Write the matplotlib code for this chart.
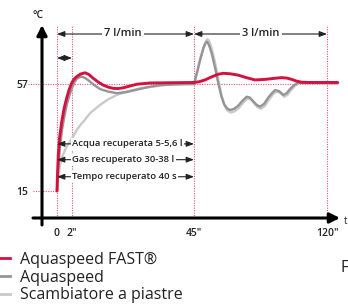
import numpy as np
import matplotlib
matplotlib.use("Agg")
import matplotlib.pyplot as plt
from matplotlib.lines import Line2D

plt.rcParams['font.family'] = ['Open Sans', 'DejaVu Sans']

# ---------------- data (time in seconds, temperature in °C) ----------------
fast_t = [0, 0.05, 0.17, 0.35, 0.63, 0.95, 1.29, 1.62, 1.96, 2.8, 3.66, 5.0, 6.58, 8.0,
          9.51, 11.2, 12.9, 14.7, 16.45, 18.2, 20.0, 22.4, 24.8, 29.5, 37.0, 45.0,
          48.0, 51.2, 55.0, 58.5, 61.5, 65.5, 69.8, 74.5, 79.4, 85.0, 90.0, 94.5,
          97.5, 100.1, 103.0, 105.7, 110.0, 126.0]
fast_v = [15.0, 20.0, 29.1, 36.0, 42.2, 47.5, 51.5, 54.8, 57.4, 59.0, 59.9, 60.9, 61.4, 60.7,
          59.2, 57.8, 56.6, 55.8, 55.3, 55.2, 55.5, 56.2, 56.9, 57.4, 57.5, 57.6,
          57.9, 58.6, 59.8, 60.8, 61.2, 61.0, 60.5, 59.5, 58.6, 58.8, 59.2, 59.5,
          59.3, 58.8, 58.1, 57.7, 57.6, 57.6]

aqua_t = [0, 0.08, 0.2, 0.4, 0.67, 1.0, 1.33, 1.66, 2.0, 2.8, 3.66, 4.5, 5.4, 6.4,
          7.6, 9.6, 11.9, 14.8, 17.8, 21.0, 24.2, 28.5, 33.0, 39.0, 45.0,
          46.5, 48.4, 50.3, 51.5, 52.2, 53.0, 54.0, 55.2, 57.0, 58.7, 60.3, 61.9,
          63.5, 65.3, 67.5, 69.8, 72.3, 74.7, 76.5, 78.3, 80.3, 82.2, 84.5, 86.7,
          88.8, 90.7, 93.0, 95.4, 97.3, 99.1, 101.5, 103.8, 108.0, 126.0]
aqua_v = [15.0, 20.0, 25.2, 32.5, 39.0, 44.5, 49.2, 52.6, 55.4, 57.6, 59.0, 59.6, 59.9, 59.5,
          58.6, 56.8, 55.0, 54.0, 53.4, 53.8, 54.6, 55.7, 56.6, 56.9, 57.0,
          61.0, 66.4, 71.0, 73.0, 73.6, 73.0, 71.2, 68.4, 63.0, 57.3, 52.5, 49.2,
          47.5, 46.8, 47.2, 48.4, 50.4, 52.0, 51.7, 50.3, 48.8, 48.1, 49.2, 51.5,
          53.3, 54.6, 54.2, 52.7, 53.4, 55.0, 56.6, 57.5, 57.5, 57.4]

scamb_t = [0, 0.15, 0.4, 0.7, 1.07, 1.4, 1.73, 2.6, 3.66, 4.8, 5.98, 8.5, 11.9, 14.8,
           17.8, 21.5, 26.0, 30.5, 35.4, 40.0, 45.0,
           46.8, 48.7, 50.6, 51.9, 52.6, 53.4, 54.5, 55.7, 57.5, 59.2, 60.8, 62.4,
           64.0, 65.8, 68.0, 70.3, 72.8, 75.2, 77.0, 78.8, 80.8, 82.7, 85.0, 87.2,
           89.3, 91.2, 93.5, 95.9, 97.8, 99.6, 102.0, 104.3, 108.5, 126.0]
scamb_v = [15.0, 20.0, 25.2, 28.5, 31.1, 33.0, 34.4, 36.8, 38.9, 40.7, 42.2, 45.7, 48.8, 51.0,
           52.7, 54.1, 55.3, 56.0, 56.6, 56.9, 57.0,
           61.5, 67.2, 72.0, 74.0, 74.6, 74.0, 72.0, 69.0, 63.2, 57.0, 51.8, 48.3,
           46.5, 45.8, 46.3, 47.6, 49.7, 51.3, 51.0, 49.5, 48.0, 47.3, 48.4, 50.8,
           52.7, 54.0, 53.6, 52.0, 52.8, 54.5, 56.3, 57.3, 57.3, 57.2]

series_labels = ['Aquaspeed FAST®', 'Aquaspeed', 'Scambiatore a piastre']
xtick_vals = [0, 2, 45, 120]
xtick_labels = ['0', '2"', '45"', '120"']
ytick_vals = [15, 57]
ytick_labels = ['15', '57']
flow_labels = ['7 l/min', '3 l/min']
recov_labels = ['Acqua recuperata 5-5,6 l', 'Gas recuperato 30-38 l', 'Tempo recuperato 40 s']
recov_levels = [33.5, 27.3, 20.6]

# ---------------- styling ----------------
RED = '#d3123f'
DGRAY = '#959595'
LGRAY = '#c9c9c9'
GUIDE = '#e0557a'

# piecewise-linear schematic time axis
knots_s = np.array([-20.0, 0.0, 2.0, 45.0, 120.0, 150.0])
knots_p = np.array([-93.0, 57.0, 72.0, 194.0, 327.0, 380.2])
fwd = lambda x: np.interp(x, knots_s, knots_p)
inv = lambda p: np.interp(p, knots_p, knots_s)

W, H = 348, 307
fig = plt.figure(figsize=(W / 100, H / 100), dpi=100)
ax_l, ax_r, ax_t, ax_b = 42, 338, 25, 218
ax = fig.add_axes([ax_l / W, 1 - ax_b / H, (ax_r - ax_l) / W, (ax_b - ax_t) / H])
ax.set_xscale('function', functions=(fwd, inv))
ax.set_xlim(float(inv(ax_l)), float(inv(ax_r)))
px_per_deg = 107 / 42.0
ymin = 57 - (ax_b - 84) / px_per_deg
ymax = 57 + (84 - ax_t) / px_per_deg
ax.set_ylim(ymin, ymax)
for s in ax.spines.values():
    s.set_visible(False)
ax.patch.set_alpha(0)

# ticks
ax.set_xticks(xtick_vals, xtick_labels)
ax.set_yticks(ytick_vals, ytick_labels)
ax.tick_params(axis='x', length=0, pad=7.5, labelsize=7.5, labelcolor='#222222')
ax.tick_params(axis='y', length=0, pad=10, labelsize=7.5, labelcolor='#222222')
for lab in ax.get_xticklabels() + ax.get_yticklabels():
    lab.set_fontweight('semibold')

# guide lines
gkw = dict(color=GUIDE, lw=0.8, ls=(0, (1, 1.2)), clip_on=False, zorder=1)
for xv in xtick_vals:
    ax.plot([xv, xv], [ymin, ymax], **gkw)
ax.plot([float(inv(28)), float(inv(338))], [57, 57], **gkw)
ax.plot([float(inv(33)), 0], [15, 15], **gkw)

# axes arrows
ax.annotate('', xy=(float(inv(340)), ymin), xytext=(float(inv(33)), ymin),
            arrowprops=dict(arrowstyle='-|>,head_length=0.6,head_width=0.3', lw=2.2,
                            color='black', shrinkA=0, shrinkB=0),
            annotation_clip=False)
ax.annotate('', xy=(float(inv(42)), ymax), xytext=(float(inv(42)), ymin - 7 / px_per_deg),
            arrowprops=dict(arrowstyle='-|>,head_length=0.6,head_width=0.3', lw=2.2,
                            color='black', shrinkA=0, shrinkB=0),
            annotation_clip=False)
fig.text(38.5 / W, 1 - 16 / H, '°C', ha='center', va='center', fontsize=7.5,
         fontweight='semibold', color='#222222')
fig.text(344 / W, 1 - 221 / H, 't', ha='left', va='center', fontsize=7, color='#222222')
fig.text(340 / W, 1 - 268 / H, 'F', ha='left', va='center', fontsize=11.5, color='#222222')

# curves
ax.plot(scamb_t, scamb_v, color=LGRAY, lw=1.7, solid_capstyle='round',
        solid_joinstyle='round', label=series_labels[2], zorder=3, clip_on=False)
ax.plot(aqua_t, aqua_v, color=DGRAY, lw=1.7, solid_capstyle='round',
        solid_joinstyle='round', label=series_labels[1], zorder=4, clip_on=False)
ax.plot(fast_t, fast_v, color=RED, lw=2.1, solid_capstyle='round',
        solid_joinstyle='round', label=series_labels[0], zorder=5, clip_on=False)

# flow-rate arrows
akw = dict(arrowstyle='<|-|>,head_length=0.45,head_width=0.17', lw=0.8, color='#222222',
           shrinkA=0, shrinkB=0)
y_flow = 57 + (84 - 34) / px_per_deg
ax.annotate('', xy=(0, y_flow), xytext=(45, y_flow), arrowprops=akw, annotation_clip=False)
ax.annotate('', xy=(45, y_flow), xytext=(120, y_flow), arrowprops=akw, annotation_clip=False)
ax.text(float(inv(123)), y_flow, flow_labels[0], ha='center', va='center', fontsize=8,
        fontweight='semibold', color='#222222',
        bbox=dict(facecolor='white', edgecolor='none', pad=1.5), zorder=6)
ax.text(float(inv(261)), y_flow, flow_labels[1], ha='center', va='center', fontsize=8,
        fontweight='semibold', color='#222222',
        bbox=dict(facecolor='white', edgecolor='none', pad=1.5), zorder=6)
y_small = 57 + (84 - 58) / px_per_deg
ax.annotate('', xy=(0, y_small), xytext=(2, y_small), arrowprops=akw, annotation_clip=False)

# recovery annotations
for lab, lv in zip(recov_labels, recov_levels):
    ax.annotate('', xy=(0, lv), xytext=(45, lv), arrowprops=akw, zorder=6)
    ax.text(float(inv(72.5)), lv, lab, ha='left', va='center', fontsize=6.8,
            fontweight='semibold', color='#222222',
            bbox=dict(facecolor='white', edgecolor='none', pad=0.8), zorder=7)

# legend
handles = [Line2D([], [], color=RED, lw=2.0), Line2D([], [], color=DGRAY, lw=2.0),
           Line2D([], [], color=LGRAY, lw=2.0)]
fig.legend(handles, series_labels, loc='upper left', bbox_to_anchor=(-0.005, 1 - 252 / H),
           frameon=False, fontsize=11.5, handlelength=0.75, handletextpad=0.6,
           labelspacing=0.1, borderpad=0, borderaxespad=0, labelcolor='#222222')

fig.savefig('out.png', dpi=100)
